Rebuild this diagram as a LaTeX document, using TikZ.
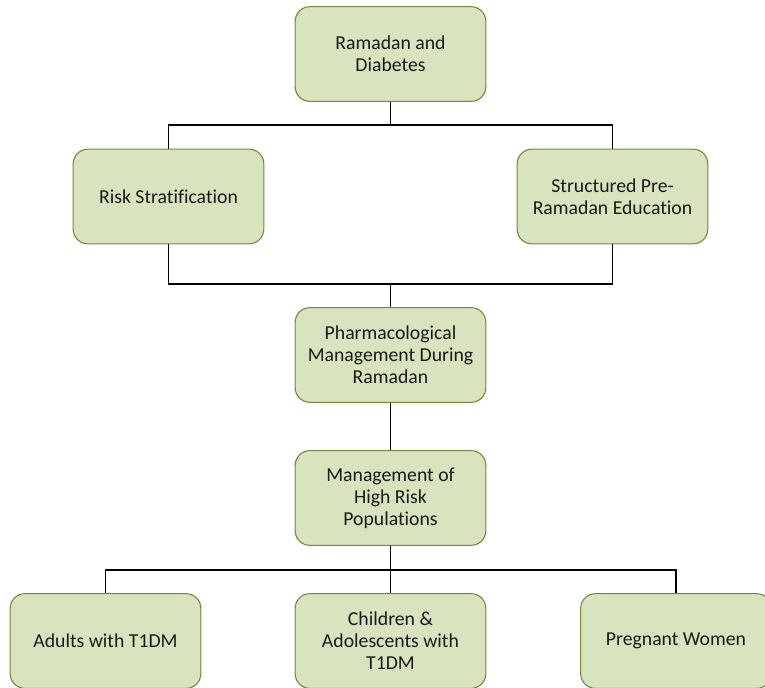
\documentclass[tikz,border=0pt]{standalone}
\usepackage{fontspec}
\setmainfont{Carlito}[Ligatures=CommonOff]
\usepackage{tikz}

\definecolor{boxfill}{HTML}{D7E4BD}
\definecolor{boxline}{HTML}{71893F}

\tikzset{
  topic/.style={draw=boxline, fill=boxfill, line width=0.8pt, rounded corners=11pt,
    minimum width=143pt, minimum height=71pt, align=center, inner sep=2pt,
    text=black!90, font=\fontsize{14.8}{16.5}\selectfont},
  link/.style={draw=black, line width=1.4pt}
}

\begin{document}
\begin{tikzpicture}[x=0.75pt,y=0.75pt,yscale=-1,xscale=1]
    \useasboundingbox (0,0) rectangle (765,687);

    % Boxes
    \node [topic] (ramadan) at (390.5,54) {Ramadan and\\Diabetes};
    \node [topic] (risk) at (168.5,196.5) {Risk Stratification};
    \node [topic] (edu) at (612.5,196.5) {Structured Pre-\\Ramadan Education};
    \node [topic] (pharm) at (390.5,355) {Pharmacological\\Management During\\Ramadan};
    \node [topic] (mgmt) at (390.5,498) {Management of\\High Risk\\Populations};
    \node [topic] (adults) at (105.5,641) {Adults with T1DM};
    \node [topic] (children) at (390.5,641) {Children \&\\Adolescents with\\T1DM};
    \node [topic] (pregnant) at (676,641) {Pregnant Women};

    % Junctions
    \coordinate (j1) at (390.5,125);
    \coordinate (j2) at (390.5,284);
    \coordinate (j3) at (390.5,570);

    % Connectors
    \draw [link] (ramadan.south) -- (j1);
    \draw [link] (risk.north) |- (j1) -| (edu.north);
    \draw [link] (risk.south) |- (j2) -| (edu.south);
    \draw [link] (j2) -- (pharm.north);
    \draw [link] (pharm.south) -- (mgmt.north);
    \draw [link] (mgmt.south) -- (j3);
    \draw [link] (adults.north) |- (j3) -| (pregnant.north);
    \draw [link] (j3) -- (children.north);

\end{tikzpicture}
\end{document}
